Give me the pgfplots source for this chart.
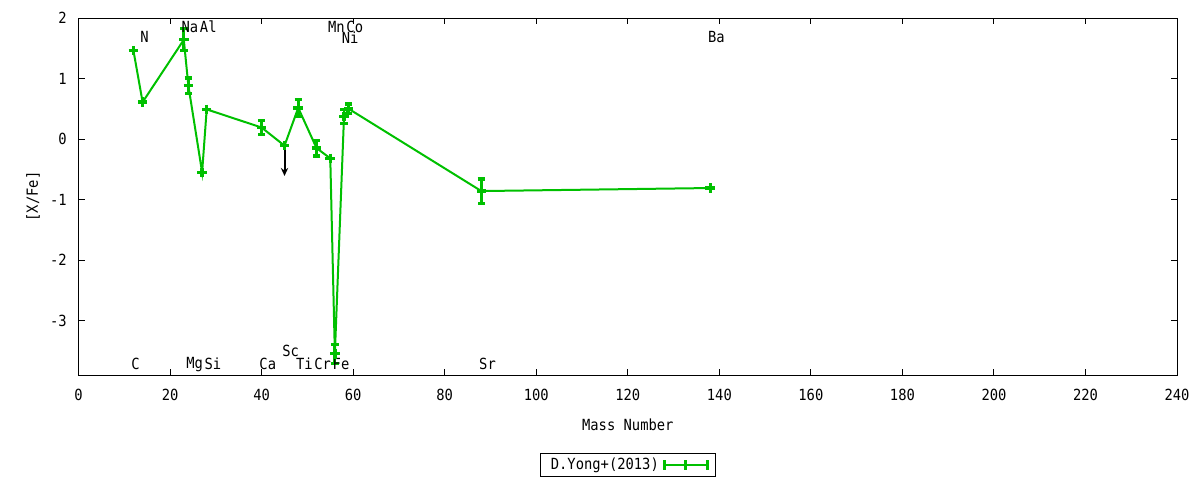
\documentclass[border=0pt]{standalone}
\usepackage{fontspec}
\setmainfont{DejaVu Sans Mono}[FakeStretch=0.9]
\usepackage{pgfplots}
\pgfplotsset{compat=1.18}
\usetikzlibrary{arrows.meta}
\definecolor{gpgreen}{RGB}{0,192,0}
\newcommand\gfont{\fontsize{11.5}{14}\selectfont}

% mass, [X/Fe], error
\pgfplotstableread{
x     y      e
12    1.46   0
14    0.61   0
23    1.64   0.18
24    0.88   0.13
27   -0.55   0
28    0.49   0
40    0.19   0.11
45   -0.11   0
48    0.515  0.14
52   -0.15   0.13
55   -0.32   0
56   -3.55   0.16
58    0.37   0.12
59    0.50   0.08
88   -0.86   0.20
138  -0.81   0
}\yongdata

% upper limit (Sc)
\pgfplotstableread{
x   y      u  v
45  -0.11  0  -0.5
}\upperlim

\begin{document}
\begin{tikzpicture}
\useasboundingbox (0,0) rectangle (900pt,360pt);
\begin{axis}[
  at={(58.9pt,78.75pt)}, anchor=south west,
  scale only axis, width=823.9pt, height=267.75pt,
  xmin=0, xmax=240, ymin=-3.9, ymax=2,
  xtick={0,20,...,240}, ytick={-3,-2,...,2},
  tick align=inside, major tick length=4.5pt,
  axis line style={line width=0.75pt},
  every tick/.style={black, line width=0.75pt},
  /pgf/number format/assume math mode=true,
  x tick label style={font=\gfont, anchor=center, inner sep=0pt, yshift=-15pt},
  y tick label style={font=\gfont, anchor=east, inner sep=0pt, xshift=-8.6pt},
  xlabel={Mass Number}, ylabel={[X/Fe]},
  xlabel style={font=\gfont, at={(axis description cs:0.5,-0.140)}, anchor=center},
  ylabel style={font=\gfont, at={(axis description cs:-0.0413,0.5)}, anchor=center},
  legend plot pos=right,
  legend style={at={(0.5,-0.252)}, anchor=center, draw=black, line width=0.75pt,
    font=\gfont, inner xsep=5pt, inner ysep=1.5pt,
    nodes={inner xsep=3pt}},
]
\addplot[gpgreen, line width=1.5pt, mark=+, mark size=3.6pt,
  mark options={line width=2.5pt},
  legend image code/.code={
    \draw[gpgreen, line width=1.5pt] (0pt,0pt) -- (32pt,0pt);
    \draw[gpgreen, line width=2.4pt] (0pt,-3.4pt) -- (0pt,3.4pt)
      (16pt,-3.4pt) -- (16pt,3.4pt) (32pt,-3.4pt) -- (32pt,3.4pt);
  },
  error bars/.cd, y dir=both, y explicit, error mark=-,
  error bar style={line width=2.2pt},
  error mark options={rotate=90, line width=2.4pt, mark size=2.8pt},
  ] table[x=x, y=y, y error=e] {\yongdata};
\addlegendentry{D.Yong+(2013)}

\addplot[black, line width=1.5pt, -{Stealth[length=6pt, width=5.5pt]},
  quiver={u=\thisrow{u}, v=\thisrow{v},
    every arrow/.append style={line width=1.5pt}}, forget plot]
  table[x=x, y=y] {\upperlim};

% element labels
\begin{scope}[every node/.style={font=\gfont, anchor=west, inner sep=0pt, xshift=-1.8pt}]
\node at (axis cs:23,1.85) {Na};
\node at (axis cs:27,1.85) {Al};
\node at (axis cs:55,1.85) {Mn};
\node at (axis cs:59,1.85) {Co};
\node at (axis cs:14,1.68) {N};
\node at (axis cs:58,1.68) {Ni};
\node at (axis cs:138,1.68) {Ba};
\node at (axis cs:12,-3.72) {C};
\node at (axis cs:24,-3.72) {Mg};
\node at (axis cs:28,-3.72) {Si};
\node at (axis cs:40,-3.72) {Ca};
\node at (axis cs:48,-3.72) {Ti};
\node at (axis cs:52,-3.72) {Cr};
\node at (axis cs:56,-3.72) {Fe};
\node at (axis cs:88,-3.72) {Sr};
\node at (axis cs:45,-3.50) {Sc};
\end{scope}
\end{axis}
\end{tikzpicture}
\end{document}
